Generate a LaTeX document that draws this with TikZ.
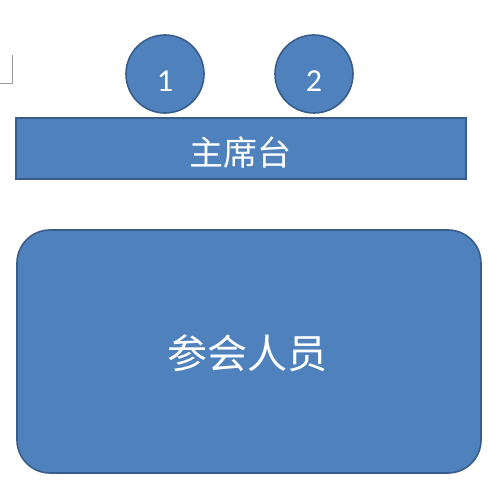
\documentclass[tikz,border=0pt]{standalone}
\usepackage{fontspec}
\setmainfont{Carlito}
\newfontfamily\cjk{Noto Sans CJK SC}
\usepackage{xcolor}
\definecolor{b1}{HTML}{4F81BD}
\definecolor{b2}{HTML}{385D8A}
\definecolor{g}{HTML}{999999}
\tikzset{
    seat/.style={circle,draw=b2,fill=b1,line width=1.6pt,minimum size=78pt,inner sep=0pt,text=white,font=\fontsize{32}{36}\selectfont},
    table/.style={draw=b2,fill=b1,line width=1.6pt,text=white},
    hall/.style={draw=b2,fill=b1,line width=1.6pt,rounded corners=33pt,text=white}
}
\begin{document}
\begin{tikzpicture}[x=1pt,y=-1pt]
			\useasboundingbox (0,0) rectangle (501,500);
			\fill[white] (0,0) rectangle (501,500);
			\draw[g, thin] (12,55) -- (12,83) -- (0,83);
			\draw[table] (16,118) rectangle (466,179);
			\node[text=white, font=\cjk\fontsize{34}{38}\selectfont] (stage) at (240,153) {主席台};
			\node[seat] (s1) at (165,74) {\raisebox{-18pt}[0pt][0pt]{1}};
			\node[seat] (s2) at (314,74) {\raisebox{-18pt}[0pt][0pt]{2}};
			\draw[hall] (17,230) rectangle (481,473);
			\node[text=white, font=\cjk\fontsize{40}{44}\selectfont] (people) at (247,353) {参会人员};
		\end{tikzpicture}
\end{document}
